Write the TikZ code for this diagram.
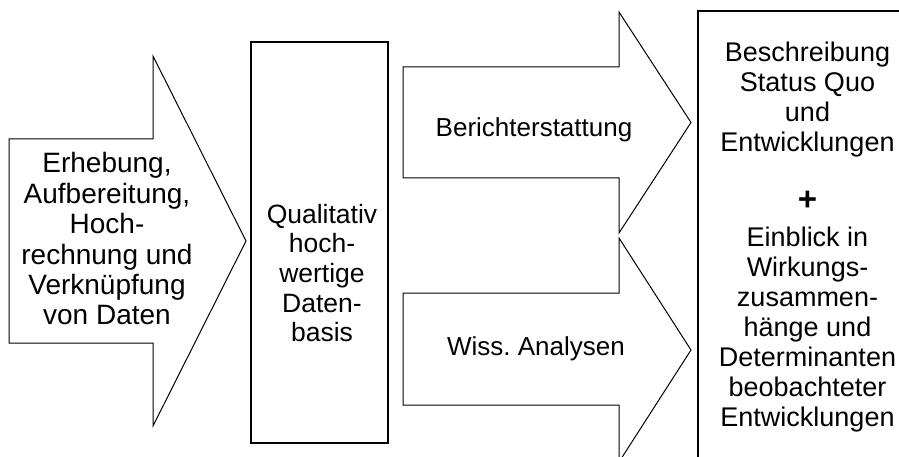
\documentclass[tikz,border=0pt]{standalone}
\usepackage{fontspec}
\setmainfont{Liberation Sans}
\frenchspacing
\tikzset{
  flowarrow/.style={draw=black, fill=white, line width=1pt, line join=miter},
  boxframe/.style={draw=black, line width=2pt},
  lbl/.style={inner sep=0pt, anchor=base, text=black}
}
\newcommand{\fsz}[2]{\fontsize{#1}{#2}\selectfont}
\begin{document}
\begin{tikzpicture}[x=1pt,y=-1pt]
\useasboundingbox (0,0) rectangle (899,457);
\clip (0,0) rectangle (899,457);
% left arrow
\draw[flowarrow] (9,139) -- (153,139) -- (153,56) -- (246,241) -- (153,426) -- (153,343) -- (9,343) -- cycle;
% middle box
\draw[boxframe] (251,42) rectangle (388,443);
% upper arrow
\draw[flowarrow] (403,67) -- (619,67) -- (619,12) -- (691,122.5) -- (619,233) -- (619,178) -- (403,178) -- cycle;
% lower arrow
\draw[flowarrow] (403,293) -- (619,293) -- (619,238) -- (691,350) -- (619,462) -- (619,405) -- (403,405) -- cycle;
% right box
\draw[boxframe] (698,11) rectangle (915,475);
% texts
\node[lbl] (lt) at (107,173) {\fsz{28}{30.4}\begin{tabular}[t]{@{}c@{}}Erhebung,\\Aufbereitung,\\Hoch-\\rechnung und\\Verknüpfung\\von Daten\end{tabular}};
\node[lbl] (mt) at (322,223) {\fsz{26.5}{29.7}\begin{tabular}[t]{@{}c@{}}Qualitativ\\hoch-\\wertige\\Daten-\\basis\end{tabular}};
\node[lbl] (ut) at (534,137) {\fsz{26}{30}Berichterstattung};
\node[lbl] (wt) at (536,355) {\fsz{26}{30}Wiss. Analysen};
\node[lbl] (rt) at (807.5,62) {\fsz{27}{30}\begin{tabular}[t]{@{}c@{}}Beschreibung\\Status Quo\\und\\Entwicklungen\\[29pt]{\fontsize{33}{30}\selectfont\bfseries +}\\[6pt]Einblick in\\Wirkungs-\\zusammen-\\hänge und\\Determinanten\\beobachteter\\Entwicklungen\end{tabular}};
\end{tikzpicture}
\end{document}
